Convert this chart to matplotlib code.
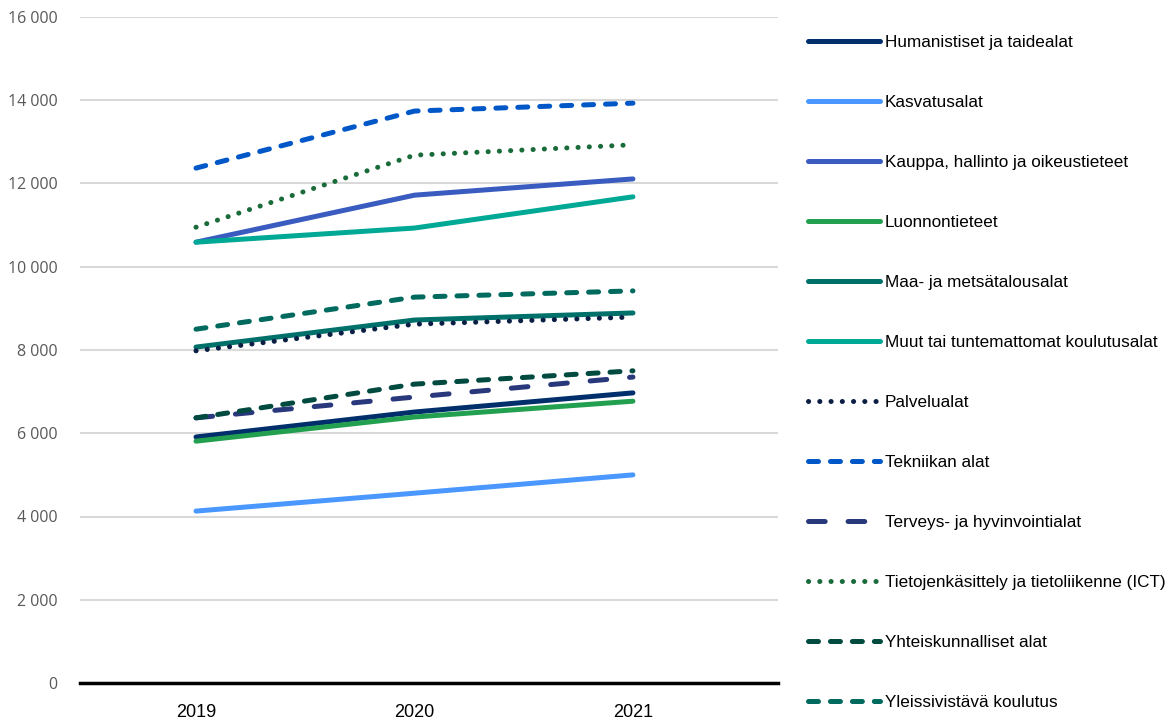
import numpy as np
import matplotlib.pyplot as plt
from matplotlib import font_manager as fm
from matplotlib.ticker import FuncFormatter

years = ['2019', '2020', '2021']

names = ['Humanistiset ja taidealat', 'Kasvatusalat', 'Kauppa, hallinto ja oikeustieteet',
         'Luonnontieteet', 'Maa- ja metsätalousalat', 'Muut tai tuntemattomat koulutusalat',
         'Palvelualat', 'Tekniikan alat', 'Terveys- ja hyvinvointialat',
         'Tietojenkäsittely ja tietoliikenne (ICT)', 'Yhteiskunnalliset alat',
         'Yleissivistävä koulutus']

humanistiset = [5910, 6510, 6970]
kasvatus = [4130, 4560, 5000]
kauppa = [10590, 11720, 12110]
luonnon = [5810, 6390, 6770]
maa_metsa = [8070, 8720, 8890]
muut = [10590, 10930, 11680]
palvelu = [7980, 8620, 8790]
tekniikka = [12370, 13740, 13930]
terveys = [6370, 6870, 7350]
ict = [10950, 12680, 12930]
yhteiskunta = [6370, 7180, 7500]
yleissiv = [8500, 9270, 9420]

series = [humanistiset, kasvatus, kauppa, luonnon, maa_metsa, muut,
          palvelu, tekniikka, terveys, ict, yhteiskunta, yleissiv]

colors = ['#002f6c', '#4a98ff', '#3a5bc0', '#22a050', '#00706a', '#00a896',
          '#0b1f45', '#0057c8', '#29387a', '#1a6b3a', '#004a40', '#006a5e']

dot = (0.1, 8.0)
dash = (7.2, 8.6)
longdash = (12, 16.5)
styles = [None, None, None, None, None, None,
          dot, dash, longdash, dot, dash, dash]

plt.rcParams['lines.scale_dashes'] = False

fig = plt.figure(figsize=(11.72, 7.24), dpi=100)
ax = fig.add_axes([80 / 1172, 41 / 724, 698 / 1172, 666 / 724])

# legend font: largest size where the longest label fits in the right margin
renderer = fig.canvas.get_renderer()
probe = fig.text(0, 0, max(names, key=len), family='Liberation Sans', size=10)
w10 = probe.get_window_extent(renderer).width
probe.remove()
leg_size = min(14.5, 10 * 280 / w10)
leg_font = fm.FontProperties(family='Liberation Sans', size=leg_size)

x = np.arange(len(years))
for vals, name, c, st in zip(series, names, colors, styles):
    line, = ax.plot(x, vals, color=c, lw=3.6, label=name,
                    solid_capstyle='round', dash_capstyle='round')
    if st is not None:
        line.set_dashes(st)

ax.set_ylim(0, 16000)
ax.set_xlim(-0.531, 2.664)
ax.set_yticks(np.arange(0, 16001, 2000))
ax.yaxis.set_major_formatter(FuncFormatter(lambda v, p: f'{int(v):,}'.replace(',', ' ')))
ax.set_xticks(x)
ax.set_xticklabels(years)
ax.grid(axis='y', color='#d9d9d9', lw=1.5)
ax.set_axisbelow(True)
for s in ['top', 'right', 'left']:
    ax.spines[s].set_visible(False)
ax.spines['bottom'].set_linewidth(2.5)
ax.spines['bottom'].set_color('black')
ax.spines['bottom'].set_zorder(5)
ax.tick_params(axis='y', length=0, pad=16, labelsize=11.5, labelcolor='#595959')
for t in ax.get_yticklabels():
    t.set_family('Open Sans')
ax.tick_params(axis='x', length=0, pad=15, labelsize=13, labelcolor='black')
for t in ax.get_xticklabels():
    t.set_family('Liberation Sans')

leg = fig.legend(loc='upper left', bbox_to_anchor=(808 / 1172, 1 - 35 / 724),
                 frameon=False, prop=leg_font, handlelength=52 / leg_size,
                 handletextpad=3.5 / leg_size,
                 labelspacing=(43.1 / leg_size) - 1.0 + 1.6 / leg_size,
                 borderaxespad=0, borderpad=0)

fig.savefig('out.png', dpi=100)
